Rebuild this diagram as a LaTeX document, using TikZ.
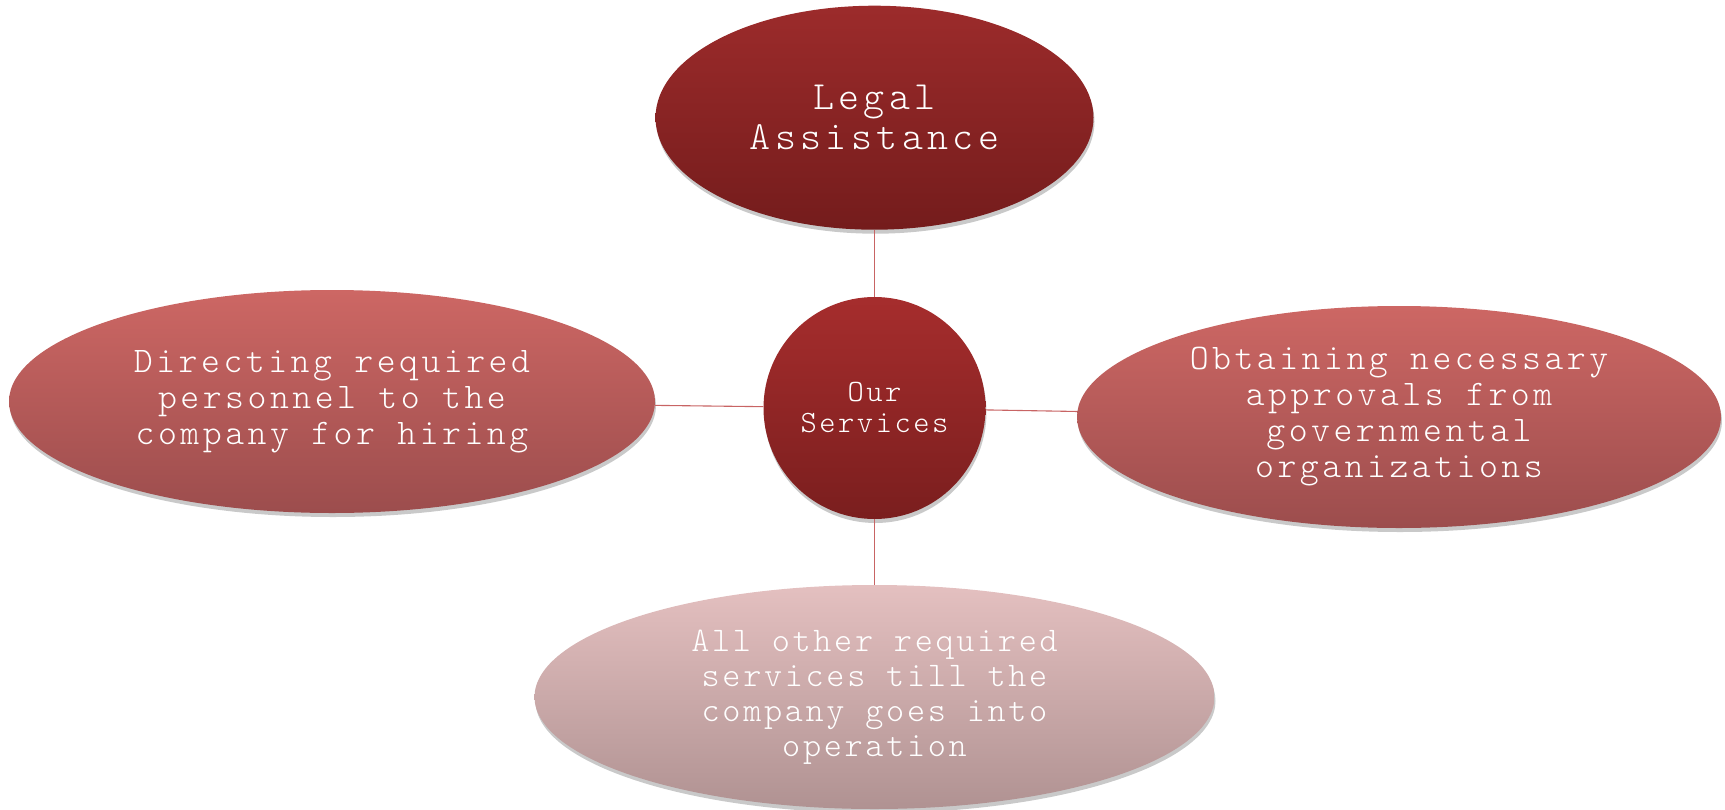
\documentclass[tikz,border=0pt]{standalone}
\usepackage{fontspec}
\setmonofont{Latin Modern Mono Light}
\usepackage{tikz}
\usetikzlibrary{shapes.geometric,shadows}

\definecolor{darkTop}{HTML}{9C2B2B}
\definecolor{darkBot}{HTML}{741C1C}
\definecolor{hubTop}{HTML}{A62D2D}
\definecolor{hubBot}{HTML}{7A1E1E}
\definecolor{midTop}{HTML}{CD6764}
\definecolor{midBot}{HTML}{9C4D4D}
\definecolor{paleTop}{HTML}{E4C0C0}
\definecolor{paleBot}{HTML}{B09292}
\definecolor{linkred}{HTML}{C86464}

% size, line skip, letter spacing
\newcommand{\svcfont}[3]{\ttfamily\fontsize{#1}{#2}\selectfont\addfontfeature{LetterSpace=#3}}

\tikzset{
  bubble/.style={ellipse, inner sep=0pt, text=white, align=center,
    drop shadow={shadow xshift=1pt, shadow yshift=-4pt, opacity=0.3, fill=black!70}},
  link/.style={draw=linkred, line width=1.1pt}
}

\begin{document}
\begin{tikzpicture}[x=1pt,y=-1pt]
  \useasboundingbox (0,0) rectangle (1725,809);

  % Hub
  \node[circle, inner sep=0pt, minimum size=222pt, text=white, align=center,
        top color=hubTop, bottom color=hubBot,
        font=\svcfont{31}{31}{8.1},
        drop shadow={shadow xshift=1pt, shadow yshift=-4pt, opacity=0.3, fill=black!70}]
    (hub) at (874.5,408) {Our\\Services};

  % Outer services
  \node[bubble, minimum width=438pt, minimum height=224pt,
        top color=darkTop, bottom color=darkBot,
        font=\svcfont{40}{40}{11}]
    (legal) at (874.5,117.7) {Legal\\Assistance};
  \node[bubble, minimum width=646pt, minimum height=223pt,
        top color=midTop, bottom color=midBot,
        font=\svcfont{36}{36}{9.7}]
    (hiring) at (332,401.5) {Directing required\\personnel to the\\company for hiring};
  \node[bubble, minimum width=644pt, minimum height=222pt,
        top color=midTop, bottom color=midBot,
        font=\svcfont{36}{36}{9.7}]
    (approvals) at (1399,417) {Obtaining necessary\\approvals from\\governmental\\organizations};
  \node[bubble, minimum width=680pt, minimum height=224pt,
        top color=paleTop, bottom color=paleBot,
        font=\svcfont{34.5}{35}{7.8}]
    (other) at (874.5,697) {All other required\\services till the\\company goes into\\operation};

  % Links
  \draw[link] (hub) -- (legal);
  \draw[link] (hub) -- (hiring);
  \draw[link] (hub) -- (approvals);
  \draw[link] (hub) -- (other);
\end{tikzpicture}
\end{document}
